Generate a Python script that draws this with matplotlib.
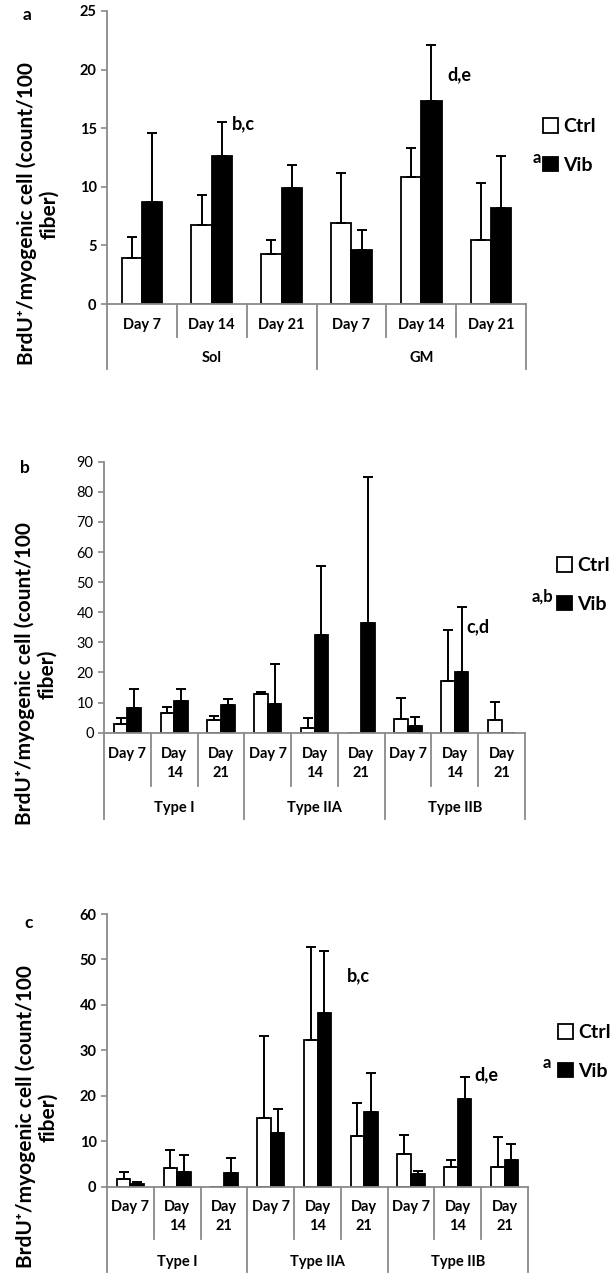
import numpy as np
import matplotlib
matplotlib.use("Agg")
import matplotlib.pyplot as plt

plt.rcParams['font.family'] = ['Lato', 'DejaVu Sans']

W, H = 612, 1284  # figure size in pixels

# ================= DATA =================
days_a = ['Day 7', 'Day 14', 'Day 21', 'Day 7', 'Day 14', 'Day 21']
groups_a = ['Sol', 'GM']
ctrl_a = [3.9, 6.7, 4.3, 6.9, 10.8, 5.5]
ctrl_a_err = [1.8, 2.6, 1.2, 4.3, 2.5, 4.8]
vib_a = [8.7, 12.6, 9.9, 4.6, 17.3, 8.2]
vib_a_err = [5.9, 2.9, 2.0, 1.7, 4.8, 4.4]

days_bc = ['Day 7', 'Day\n14', 'Day\n21'] * 3
groups_bc = ['Type I', 'Type IIA', 'Type IIB']

ctrl_b = [2.9, 6.4, 4.2, 12.7, 1.4, 0, 4.4, 17.2, 4.2]
ctrl_b_err = [1.9, 2.0, 1.5, 0.9, 3.6, 0, 7.2, 16.9, 6.1]
vib_b = [8.1, 10.6, 9.2, 9.5, 32.5, 36.5, 2.2, 20.3, 0]
vib_b_err = [6.3, 3.8, 1.9, 13.2, 22.7, 48.4, 3.1, 21.4, 0]

ctrl_c = [1.6, 4.0, 0, 15.1, 32.2, 11.2, 7.1, 4.4, 4.4]
ctrl_c_err = [1.7, 4.0, 0, 18.1, 20.6, 7.1, 4.2, 1.5, 6.5]
vib_c = [0.5, 3.3, 3.0, 11.7, 38.2, 16.5, 2.7, 19.3, 5.8]
vib_c_err = [0.6, 3.6, 3.2, 5.3, 13.7, 8.4, 0.8, 4.9, 3.5]

ylabel = 'BrdU\u207a/myogenic cell (count/100\nfiber)'
GRAY = '#8a8a8a'
BW = 0.29  # bar width (category units)


def rect(l, r, top, bottom):
    return [l / W, 1 - bottom / H, (r - l) / W, (bottom - top) / H]


def panel(box, ctrl, ctrl_err, vib, vib_err, ymax, ystep, days, groups,
          tick_weight, offs):
    ax = fig.add_axes(rect(*box))
    h_px = box[3] - box[2]
    n = len(days)
    x = np.arange(n)
    ctrl = np.array(ctrl, float)
    vib = np.array(vib, float)
    ctrl_err = np.array(ctrl_err, float)
    vib_err = np.array(vib_err, float)

    bc = ax.bar(x - BW / 2, ctrl, BW, color='white', edgecolor='black', linewidth=1.3, zorder=2)
    bv = ax.bar(x + BW / 2, vib, BW, color='black', edgecolor='black', linewidth=1.3, zorder=2)
    for xs, v, e in [(x - BW / 2, ctrl, ctrl_err), (x + BW / 2, vib, vib_err)]:
        m = (v > 0) | (e > 0)
        ax.errorbar(xs[m], v[m], yerr=[np.zeros(m.sum()), e[m]], fmt='none',
                    ecolor='black', elinewidth=1.4, capsize=3.6, capthick=1.4, zorder=3)

    ax.set_xlim(-0.5, n - 0.5)
    ax.set_ylim(0, ymax)
    ax.set_yticks(np.arange(0, ymax + 1, ystep))
    ax.set_xticks([])
    for s in ['top', 'right']:
        ax.spines[s].set_visible(False)
    for s in ['left', 'bottom']:
        ax.spines[s].set_color(GRAY)
        ax.spines[s].set_linewidth(1.3)
    ax.tick_params(axis='y', colors=GRAY, length=4, width=1.2, labelcolor='black',
                   labelsize=10.5)
    for t in ax.get_yticklabels():
        t.set_fontweight(tick_weight)

    # multi-level category axis
    tr = ax.get_xaxis_transform()
    day_y, sep_y, grp_y, gsep_y = [-o / h_px for o in offs]
    per = n // len(groups)
    for i in range(1, n):
        end = gsep_y if i % per == 0 else sep_y
        ax.plot([i - 0.5, i - 0.5], [0, end], color=GRAY, lw=1.3, transform=tr, clip_on=False)
    for xe in [-0.5, n - 0.5]:
        ax.plot([xe, xe], [0, gsep_y], color=GRAY, lw=1.3, transform=tr, clip_on=False)
    for i, d in enumerate(days):
        ax.text(i, day_y, d, transform=tr, ha='center', va='top', fontsize=10.5,
                fontweight='bold', linespacing=1.45)
    for g, name in enumerate(groups):
        ax.text(g * per + (per - 1) / 2, grp_y, name, transform=tr, ha='center',
                va='center', fontsize=10.5, fontweight='bold')
    return ax, bc, bv


def legend(ax, bc, bv, xy):
    ax.legend([bc, bv], ['Ctrl', 'Vib'], loc='center left', frameon=False,
              bbox_to_anchor=(xy[0] / W, 1 - xy[1] / H), bbox_transform=fig.transFigure,
              handlelength=0.75, handleheight=0.75, handletextpad=0.3, labelspacing=1.1,
              borderaxespad=0, borderpad=0, prop={'weight': 'bold', 'size': 14})


fig = plt.figure(figsize=(W / 100, H / 100), dpi=100)

# ================= PANEL A =================
ax_a, bc, bv = panel((107, 526, 11, 304), ctrl_a, ctrl_a_err, vib_a, vib_a_err, 25, 5,
                     days_a, groups_a, 'bold', (14, 33, 54, 65))
ax_a.text(1.29, 15.4, 'b,c', fontsize=13, fontweight='bold', va='center')
ax_a.text(4.37, 19.6, 'd,e', fontsize=13, fontweight='bold', va='center')
fig.text(27 / W, 1 - 15 / H, 'a', fontsize=12.5, fontweight='bold', ha='center', va='center')
fig.text(38 / W, 1 - 214 / H, ylabel, rotation=90, ha='center', va='center',
         fontsize=15, fontweight='bold', linespacing=1.1)
legend(ax_a, bc, bv, (543, 146))
fig.text(537 / W, 1 - 158 / H, 'a', fontsize=12, fontweight='bold', ha='center', va='center')

# ================= PANEL B =================
ax_b, bc, bv = panel((104, 525, 461.7, 732.7), ctrl_b, ctrl_b_err, vib_b, vib_b_err, 90, 10,
                     days_bc, groups_bc, 'normal', (14, 53, 75, 86))
ax_b.text(7.24, 35.1, 'c,d', fontsize=13, fontweight='bold', va='center')
fig.text(25 / W, 1 - 468 / H, 'b', fontsize=12.5, fontweight='bold', ha='center', va='center')
fig.text(36 / W, 1 - 674 / H, ylabel, rotation=90, ha='center', va='center',
         fontsize=15, fontweight='bold', linespacing=1.1)
legend(ax_b, bc, bv, (557, 585))
fig.text(542 / W, 1 - 597 / H, 'a,b', fontsize=12, fontweight='bold', ha='center', va='center')

# ================= PANEL C =================
ax_c, bc, bv = panel((107, 528, 914, 1186.5), ctrl_c, ctrl_c_err, vib_c, vib_c_err, 60, 10,
                     days_bc, groups_bc, 'bold', (14, 52.5, 75.5, 85.5))
ax_c.text(4.62, 46.5, 'b,c', fontsize=13, fontweight='bold', va='center')
ax_c.text(7.36, 24.5, 'd,e', fontsize=13, fontweight='bold', va='center')
fig.text(29 / W, 1 - 923 / H, 'c', fontsize=12.5, fontweight='bold', ha='center', va='center')
fig.text(37 / W, 1 - 1117 / H, ylabel, rotation=90, ha='center', va='center',
         fontsize=15, fontweight='bold', linespacing=1.1)
legend(ax_c, bc, bv, (558, 1052))
fig.text(547 / W, 1 - 1063 / H, 'a', fontsize=12, fontweight='bold', ha='center', va='center')

fig.savefig('out.png', dpi=100)
